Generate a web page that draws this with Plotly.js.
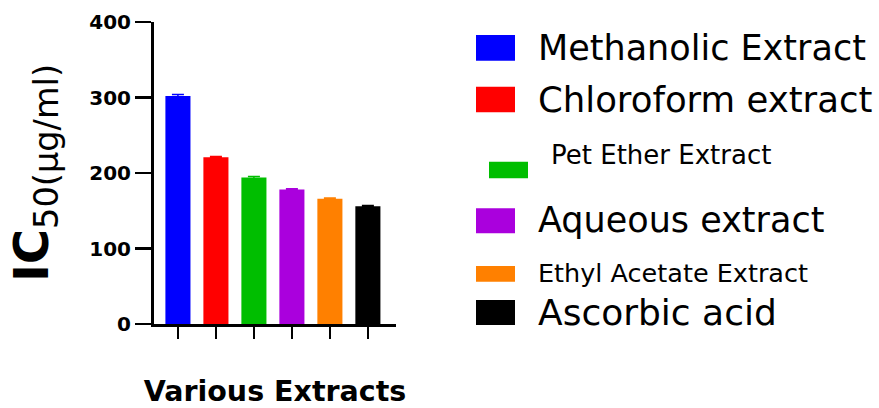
<!DOCTYPE html>
<html>
<head>
<meta charset="utf-8">
<script src="https://cdn.plot.ly/plotly-3.0.1.min.js"></script>
<style>html,body{margin:0;padding:0;background:#fff;}#chart{width:879px;height:408px;}</style>
</head>
<body>
<div id="chart"></div>
<script>
// ---- data ----
const categories = ["Methanolic Extract", "Chloroform extract", "Pet Ether Extract", "Aqueous extract", "Ethyl Acetate Extract", "Ascorbic acid"];
const ic50Values = [302, 221, 194, 178, 166, 156];
const ic50Errors = [2, 1, 1.5, 1, 1, 1];
const barColors = ["#0000FF", "#FF0000", "#00BE00", "#AA00DD", "#FF8000", "#000000"];
const yTickValues = [0, 100, 200, 300, 400];

// ---- layout constants ----
const W = 879, H = 408, L = 154, R = 483, T = 22, B = 84;
const PW = W - L - R, PH = H - T - B;
const px = p => (p - L) / PW;
const py = p => 1 - (p - T) / PH;
const FONT = "DejaVu Sans, Arial, sans-serif";

// legend row styling (pixel positions): swatch box, text left, text cap-centre, font size
const legendRows = [
  {sx0: 476, sx1: 515, sy0: 35,    sy1: 60.7,  tx: 536, ty: 48,  fs: 35},
  {sx0: 476, sx1: 515, sy0: 86.7,  sy1: 112.3, tx: 536, ty: 99,  fs: 35.5},
  {sx0: 489, sx1: 528, sy0: 161.7, sy1: 178.3, tx: 549, ty: 155, fs: 26},
  {sx0: 476, sx1: 515, sy0: 208.3, sy1: 233.3, tx: 536, ty: 220, fs: 35},
  {sx0: 476, sx1: 515, sy0: 266,   sy1: 281.7, tx: 536, ty: 273, fs: 25.5},
  {sx0: 476, sx1: 515, sy0: 300,   sy1: 325,   tx: 536, ty: 312, fs: 36}
];

const traces = categories.map((c, i) => ({
  type: "bar",
  x: [c],
  y: [ic50Values[i]],
  name: c,
  width: 0.66,
  marker: {color: barColors[i], line: {width: 0}},
  error_y: {type: "data", array: [ic50Errors[i]], visible: true, color: barColors[i], thickness: 1.5, width: 6},
  showlegend: false,
  hoverinfo: "x+y"
}));

const shapes = [], annotations = [];
categories.forEach((c, i) => {
  const r = legendRows[i];
  shapes.push({type: "rect", xref: "paper", yref: "paper",
    x0: px(r.sx0), x1: px(r.sx1), y0: py(r.sy1), y1: py(r.sy0),
    fillcolor: barColors[i], line: {width: 0}});
  annotations.push({xref: "paper", yref: "paper", x: px(r.tx), y: py(r.ty),
    xanchor: "left", yanchor: "middle", showarrow: false, text: c,
    font: {family: FONT, size: r.fs, color: "#000"}});
});

const layout = {
  width: W, height: H,
  margin: {l: L, r: R, t: T, b: B, pad: 0},
  paper_bgcolor: "#fff", plot_bgcolor: "#fff",
  barmode: "overlay",
  showlegend: false,
  xaxis: {
    type: "category",
    range: [-0.63, 5.74],
    showgrid: false, zeroline: false,
    showline: true, linecolor: "#000", linewidth: 3,
    ticks: "outside", ticklen: 12, tickwidth: 2.5, tickcolor: "#000",
    showticklabels: false,
    title: {text: "<b>Various Extracts</b>", font: {family: FONT, size: 28.5, color: "#000"}, standoff: 51}
  },
  yaxis: {
    range: [0, 400],
    tickvals: yTickValues,
    ticktext: yTickValues.map(String),
    showgrid: false, zeroline: false,
    showline: true, linecolor: "#000", linewidth: 3,
    ticks: "outside", ticklen: 16, tickwidth: 2.5, tickcolor: "#000",
    tickfont: {family: FONT, size: 20, color: "#000", weight: "bold"},
    title: {text: "<b>IC</b><sub>50(μg/ml)</sub>", font: {family: FONT, size: 48, color: "#000"}, standoff: 26}
  },
  shapes: shapes,
  annotations: annotations
};

Plotly.newPlot("chart", traces, layout, {displayModeBar: false, staticPlot: true});
</script>
</body>
</html>
